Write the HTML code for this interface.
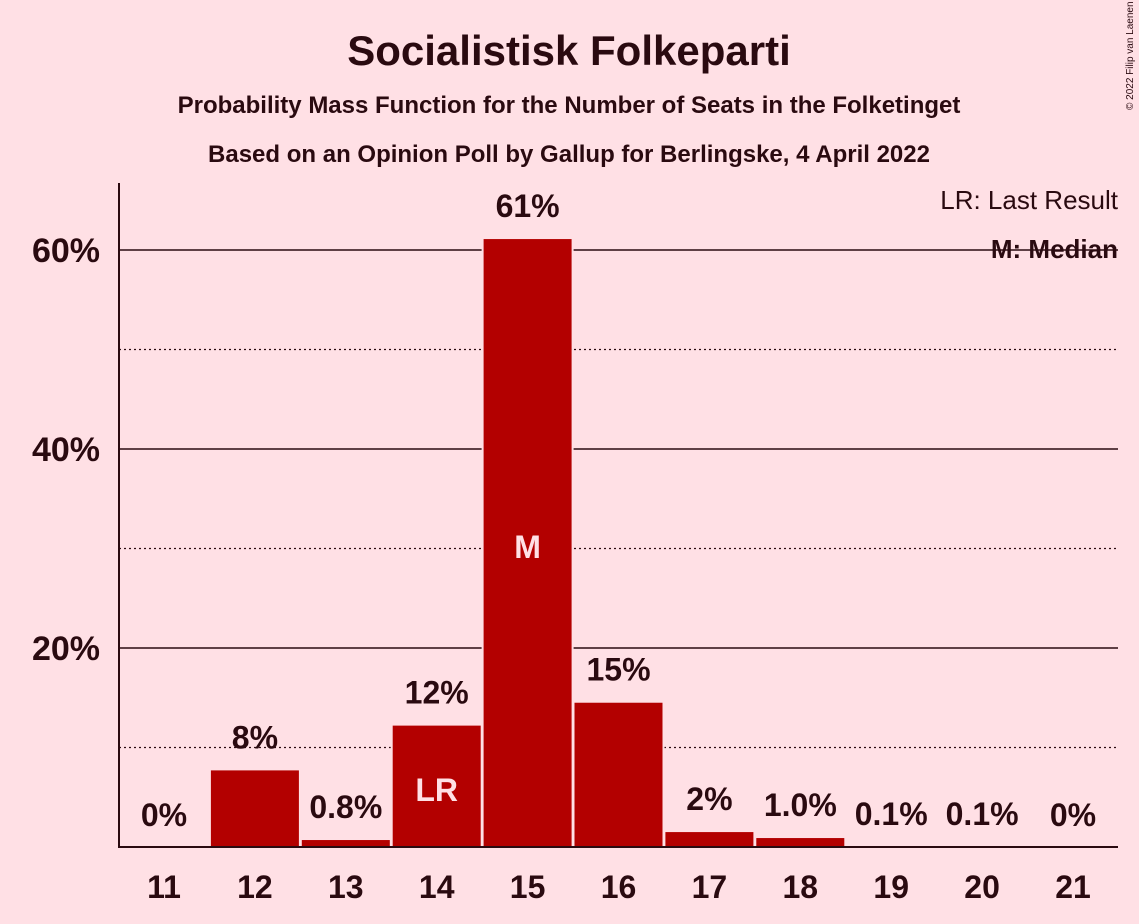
<!DOCTYPE html>
<html><head><meta charset="utf-8"><style>
body{margin:0;background:#ffe0e5;}
svg{display:block;font-family:"Liberation Sans",sans-serif;}
</style></head><body>
<svg width="1139" height="924">
<rect width="1139" height="924" fill="#ffe0e5"/>
<text x="569" y="65" text-anchor="middle" font-size="42" font-weight="bold" fill="#2a0a10">Socialistisk Folkeparti</text>
<text x="569" y="113" text-anchor="middle" font-size="24" font-weight="bold" fill="#2a0a10">Probability Mass Function for the Number of Seats in the Folketinget</text>
<text x="569" y="162" text-anchor="middle" font-size="24" font-weight="bold" fill="#2a0a10">Based on an Opinion Poll by Gallup for Berlingske, 4 April 2022</text>
<text x="1133" y="110" font-size="10" fill="#2a0a10" transform="rotate(-90 1133 110)">© 2022 Filip van Laenen</text>
<g id="grid"></g>
<g id="bars"></g>
<g id="labels"></g>
<line x1="119" y1="183" x2="119" y2="848" stroke="#2a0a10" stroke-width="2"/>
<line x1="118" y1="847" x2="1118" y2="847" stroke="#2a0a10" stroke-width="2"/>
<text x="1118" y="209" text-anchor="end" font-size="26" fill="#2a0a10">LR: Last Result</text>
<text x="1118" y="258" text-anchor="end" font-size="26" font-weight="bold" fill="#2a0a10">M: Median</text>
</svg>
<script>
const categories=[11,12,13,14,15,16,17,18,19,20,21];
const values=[0,7.8,0.8,12.3,61.2,14.6,1.6,1.0,0.1,0.1,0];
const valueLabels=["0%","8%","0.8%","12%","61%","15%","2%","1.0%","0.1%","0.1%","0%"];
const yTicks=[20,40,60];
const yMinor=[10,30,50];
const lastResult=14, median=15;
const NS="http://www.w3.org/2000/svg";
const y=v=>847-v*9.95;
const x=i=>164+i*90.9;
function mk(t,a,p){const e=document.createElementNS(NS,t);for(const k in a)e.setAttribute(k,a[k]);p.appendChild(e);return e;}
const grid=document.getElementById('grid'),bars=document.getElementById('bars'),labels=document.getElementById('labels');
yMinor.forEach(v=>{const l=mk('line',{x1:119,x2:1118,y1:y(v),y2:y(v),stroke:'#2a0a10','stroke-width':1.2,'stroke-dasharray':'2,3'},grid);

});
yTicks.forEach(v=>{const l=mk('line',{x1:119,x2:1118,y1:y(v),y2:y(v),stroke:'#2a0a10','stroke-width':1.5},grid);


const t=mk('text',{x:100,y:y(v)+12,'text-anchor':'end','font-size':34,'font-weight':'bold',fill:'#2a0a10'},labels);t.textContent=v+'%';

});
categories.forEach((c,i)=>{
 if(values[i]>0){const r=mk('rect',{x:x(i)-45,y:y(values[i]),width:90,height:847-y(values[i]),fill:'#b30000',stroke:'#ffe0e5','stroke-width':2},bars);
 
 }
 const t=mk('text',{x:x(i),y:y(values[i])-21,'text-anchor':'middle','font-size':32,'font-weight':'bold',fill:'#2a0a10'},labels);t.textContent=valueLabels[i];
 
 
 const xt=mk('text',{x:x(i),y:898,'text-anchor':'middle','font-size':32,'font-weight':'bold',fill:'#2a0a10'},labels);xt.textContent=c;
 
 
 if(c===lastResult){const m=mk('text',{x:x(i),y:801,'text-anchor':'middle','font-size':32,'font-weight':'bold',fill:'#ffe0e5'},labels);m.textContent='LR';
 
 }
 if(c===median){const m=mk('text',{x:x(i),y:558,'text-anchor':'middle','font-size':32,'font-weight':'bold',fill:'#ffe0e5'},labels);m.textContent='M';
 
 }
});
</script>
</body></html>
